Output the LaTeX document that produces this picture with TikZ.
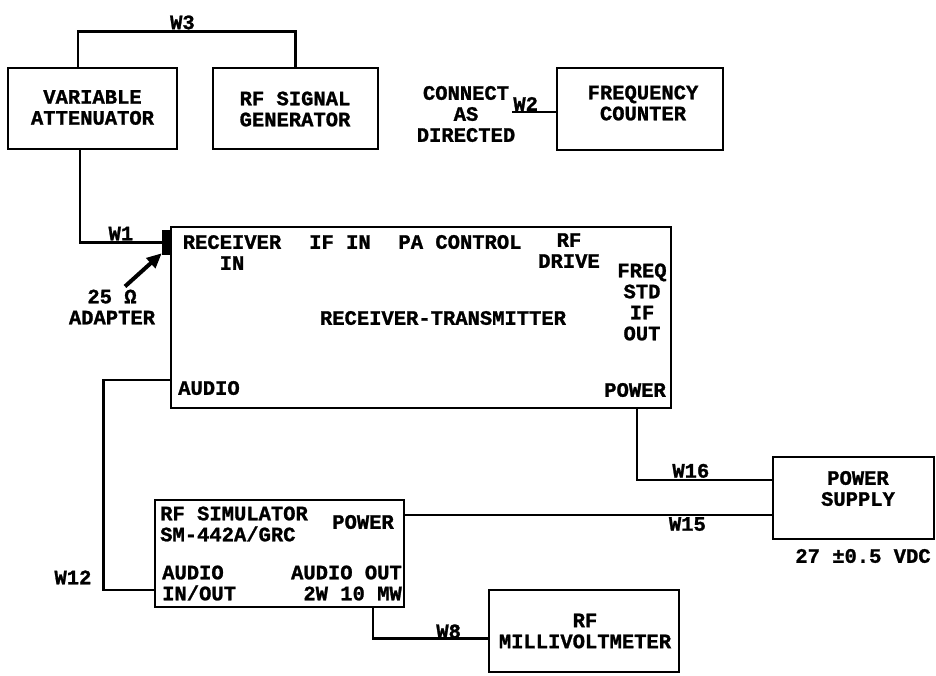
\documentclass[tikz,border=0pt]{standalone}
\usepackage{fontspec}
\newfontfamily\plotfont{Liberation Mono}[BoldFeatures={FakeBold=1.2}]
\usepackage{tikz}
\usetikzlibrary{arrows.meta, positioning}

\begin{document}
\begin{tikzpicture}[
    x=1pt, y=-1pt,
    font=\plotfont\bfseries\fontsize{20.5}{21}\selectfont,
    unit/.style={draw, line width=2.8pt, inner sep=0pt},
    txt/.style={align=center, inner sep=0pt},
    wire/.style={line width=2.4pt},
    tag/.style={inner sep=1pt},
    ptr/.style={-{Triangle[length=15pt,width=13pt]}, line width=4pt},
]
\useasboundingbox (0,0) rectangle (936,675);

% test set, top row
\node[unit, minimum width=169pt, minimum height=81pt] (att) at (92.5,108.5) {};
\node[txt] (attname) at (92.5,107.5) {VARIABLE\\ATTENUATOR};
\node[unit, minimum width=165pt, minimum height=81pt] (siggen) at (295.5,108.5) {};
\node[txt] (siggenname) at (295,109) {RF SIGNAL\\GENERATOR};
\node[unit, minimum width=166pt, minimum height=82pt] (fcount) at (640,109) {};
\node[txt] (fcountname) at (643,103) {FREQUENCY\\COUNTER};
\node[txt] (direct) at (466,114) {CONNECT\\AS\\DIRECTED};

\draw[wire] ([xshift=-14.5pt]att.north) -- ++(0,-35) -| node[tag, above, pos=0.24] (w3) {W3} (siggen.north);
\draw[wire] ([yshift=-3pt]fcount.west) -- node[tag, above=-1pt, pos=0.68] (w2) {W2} ++(-44,0);

% receiver-transmitter
\node[unit, minimum width=500pt, minimum height=181pt] (rt) at (421,317.5) {};
\node[txt] (rtname) at (443,318) {RECEIVER-TRANSMITTER};
\node[txt] (recin) at (232,252.5) {RECEIVER\\IN};
\node[txt] (ifin) at (340,242) {IF IN};
\node[txt] (pactl) at (460,242) {PA CONTROL};
\node[txt] (rfdrive) at (569,250.5) {RF\\DRIVE};
\node[txt] (freqstd) at (642,302) {FREQ\\STD\\IF\\OUT};
\node[txt, anchor=west] (rtaudio) at (178,388) {AUDIO};
\node[txt, anchor=east] (rtpower) at (666,390) {POWER};

\node[fill, minimum width=10pt, minimum height=25pt, inner sep=0pt] (adapter) at (167,242.5) {};
\node[txt] (adtext) at (112,307) {25 Ω\\ADAPTER};
\draw[wire] (adapter.west) -| node[tag, above, pos=0.25] (w1) {W1} ([xshift=-12.5pt]att.south);
\draw[ptr] ([xshift=13pt,yshift=3pt]adtext.north) -- ([yshift=2pt]adapter.south west);

% rf simulator
\node[unit, minimum width=249pt, minimum height=107pt] (sim) at (279.5,553.5) {};
\node[txt, align=left, anchor=west] (simname) at (160,524) {RF SIMULATOR\\SM-442A/GRC};
\node[txt, anchor=east] (simpower) at (394,522) {POWER};
\node[txt, align=left, anchor=west] (simain) at (162,583) {AUDIO\\IN/OUT};
\node[txt, align=right, anchor=east] (simaout) at (402,583) {AUDIO OUT\\2W 10 MW};

% power supply and millivoltmeter
\node[unit, minimum width=161pt, minimum height=82pt] (psu) at (853.5,498) {};
\node[txt] (psuname) at (858,488.5) {POWER\\SUPPLY};
\node[txt] (psuvolt) at (863,556) {27 ±0.5 VDC};
\node[unit, minimum width=190pt, minimum height=82pt] (mvm) at (584,631) {};
\node[txt] (mvmname) at (585,631) {RF\\MILLIVOLTMETER};

\draw[wire] ([yshift=-62.5pt]rt.west) -- ++(-66,0) |- node[tag, left=10pt, pos=0.47] (w12) {W12} ([yshift=-36.5pt]sim.west);
\draw[wire] ([xshift=216pt]rt.south) |- node[tag, above, pos=0.7] (w16) {W16} ([yshift=18pt]psu.west);
\draw[wire] ([yshift=38.5pt]sim.east) -- node[tag, below, pos=0.77] (w15) {W15} ([yshift=38.5pt]sim.east -| psu.west);
\draw[wire] ([xshift=93.5pt]sim.south) |- node[tag, above=-2pt, pos=0.83] (w8) {W8} ([yshift=-7.5pt]mvm.west);
\end{tikzpicture}
\end{document}
